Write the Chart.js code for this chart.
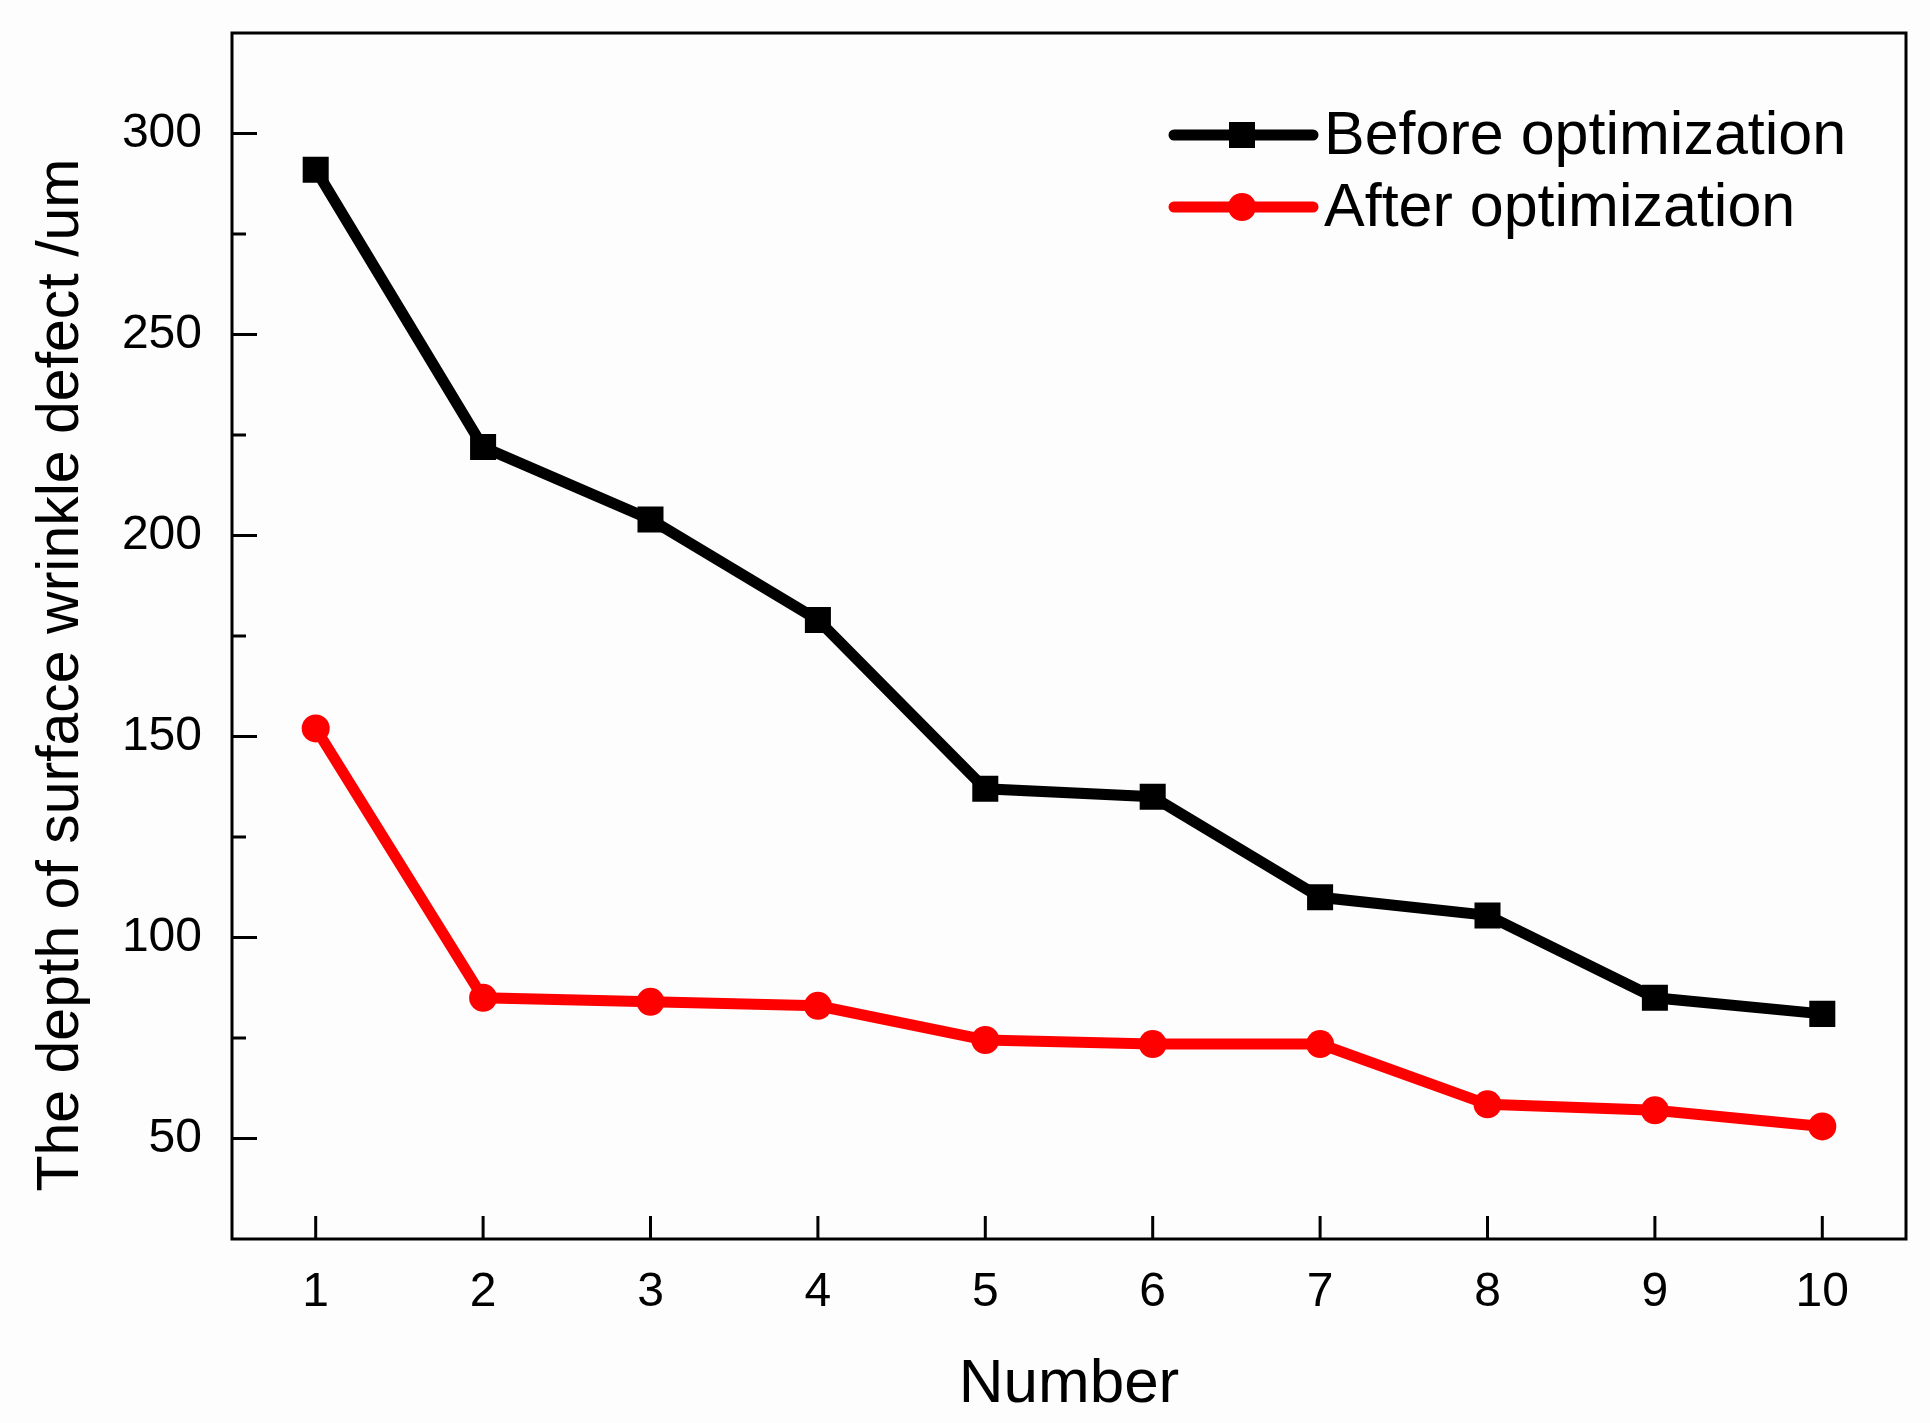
<!DOCTYPE html>
<html>
<head>
<meta charset="utf-8">
<script src="https://cdn.jsdelivr.net/npm/chart.js@4.4.1/dist/chart.umd.min.js"></script>
<style>
  html, body { margin: 0; padding: 0; background: #fdfdfd; }
  canvas { display: block; }
</style>
</head>
<body>
<canvas id="chart" width="1930" height="1423"></canvas>
<script>
// wrinkle depth, before / after optimisation
const numbers = ["1", "2", "3", "4", "5", "6", "7", "8", "9", "10"];
const beforeOpt = [291, 222, 204, 179, 137, 135, 110, 105.5, 85, 81];
const afterOpt = [152, 85, 84, 83, 74.5, 73.5, 73.5, 58.5, 57, 53];
const yMajorTicks = [50, 100, 150, 200, 250, 300];
const yMinorTicks = [75, 125, 175, 225, 275];

const FONT = "'Liberation Sans', Arial, sans-serif";

// frame, inward ticks, axis titles, legend
const framePlugin = {
  id: "frame",
  afterDraw(chart) {
    const ctx = chart.ctx;
    const a = chart.chartArea;
    const x = chart.scales.x;
    const y = chart.scales.y;
    ctx.save();
    ctx.strokeStyle = "#000";
    ctx.lineWidth = 3;
    ctx.strokeRect(a.left, a.top, a.right - a.left, a.bottom - a.top);

    ctx.beginPath();
    yMajorTicks.forEach((v) => {
      const py = y.getPixelForValue(v);
      ctx.moveTo(a.left, py);
      ctx.lineTo(a.left + 25, py);
    });
    yMinorTicks.forEach((v) => {
      const py = y.getPixelForValue(v);
      ctx.moveTo(a.left, py);
      ctx.lineTo(a.left + 14, py);
    });
    numbers.forEach((n, i) => {
      const px = x.getPixelForValue(i);
      ctx.moveTo(px, a.bottom);
      ctx.lineTo(px, a.bottom - 23);
    });
    ctx.stroke();

    // axis titles
    ctx.fillStyle = "#000";
    ctx.textAlign = "center";
    ctx.textBaseline = "alphabetic";
    ctx.font = "62px " + FONT;
    ctx.fillText("Number", (a.left + a.right) / 2, 1402);
    ctx.save();
    ctx.translate(78, 675);
    ctx.rotate(-Math.PI / 2);
    ctx.font = "59px " + FONT;
    ctx.fillText("The depth of surface wrinkle defect /um", 0, 0);
    ctx.restore();

    // legend
    const rows = [135, 207];
    chart.data.datasets.forEach((ds, i) => {
      const ly = rows[i];
      ctx.strokeStyle = ds.borderColor;
      ctx.lineWidth = ds.borderWidth;
      ctx.lineCap = "round";
      ctx.beginPath();
      ctx.moveTo(1174, ly);
      ctx.lineTo(1313, ly);
      ctx.stroke();
      ctx.fillStyle = ds.pointBackgroundColor;
      if (ds.pointStyle === "rect") {
        ctx.fillRect(1242 - 13, ly - 13, 26, 26);
      } else {
        ctx.beginPath();
        ctx.arc(1242, ly, 14, 0, Math.PI * 2);
        ctx.fill();
      }
      ctx.fillStyle = "#000";
      ctx.font = "61px " + FONT;
      ctx.textAlign = "left";
      ctx.textBaseline = "middle";
      ctx.fillText(ds.label, 1324, ly + 2);
    });
    ctx.restore();
  },
};

new Chart(document.getElementById("chart"), {
  type: "line",
  data: {
    labels: numbers,
    datasets: [
      {
        label: "Before optimization",
        data: beforeOpt,
        borderColor: "#000000",
        backgroundColor: "#000000",
        pointBackgroundColor: "#000000",
        pointBorderWidth: 0,
        borderWidth: 11,
        pointStyle: "rect",
        pointRadius: 18.4,
        tension: 0,
      },
      {
        label: "After optimization",
        data: afterOpt,
        borderColor: "#ff0000",
        backgroundColor: "#ff0000",
        pointBackgroundColor: "#ff0000",
        pointBorderWidth: 0,
        borderWidth: 11,
        pointStyle: "circle",
        pointRadius: 14,
        tension: 0,
      },
    ],
  },
  options: {
    responsive: false,
    devicePixelRatio: 1,
    animation: false,
    layout: { padding: { top: 33, right: 24, left: 0, bottom: 0 } },
    plugins: {
      legend: { display: false },
      tooltip: { enabled: false },
    },
    scales: {
      x: {
        type: "category",
        offset: true,
        grid: { display: false, drawTicks: false },
        border: { display: false },
        ticks: {
          color: "#000",
          font: { family: FONT, size: 48 },
          padding: 25,
          maxRotation: 0,
        },
        afterFit(scale) {
          scale.height = 184;
          scale.paddingLeft = 0;
          scale.paddingRight = 0;
        },
      },
      y: {
        min: 25,
        max: 325,
        grid: { display: false, drawTicks: false },
        border: { display: false },
        afterBuildTicks(scale) {
          scale.ticks = yMajorTicks.map((v) => ({ value: v }));
        },
        ticks: {
          color: "#000",
          font: { family: FONT, size: 48 },
          padding: 30,
        },
        afterFit(scale) {
          scale.width = 232;
          scale.paddingTop = 0;
          scale.paddingBottom = 0;
        },
      },
    },
  },
  plugins: [framePlugin],
});
</script>
</body>
</html>
